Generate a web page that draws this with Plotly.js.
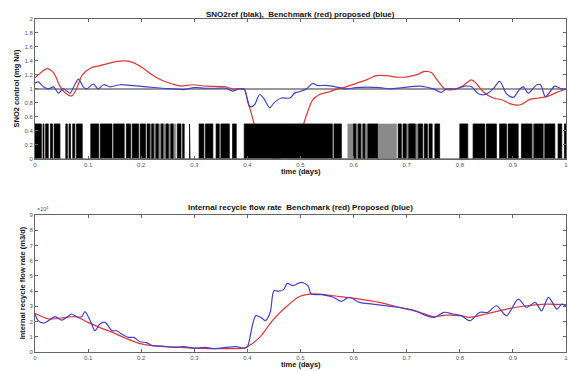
<!DOCTYPE html>
<html>
<head>
<meta charset="utf-8">
<script src="https://cdn.plot.ly/plotly-3.0.1.min.js"></script>
<style>html,body{margin:0;padding:0;background:#fff;}#chart{width:569px;height:371px;}</style>
</head>
<body>
<div id="chart"></div>
<script>
// ---- top panel: SNO2 control ----
const sno2RefX = [0, 1];
const sno2RefY = [1, 1];

const sno2RedX = [0,0.012,0.023,0.035,0.047,0.056,0.069,0.078,0.089,0.105,0.121,0.140,0.165,0.184,0.203,0.221,0.240,0.259,0.275,0.297,0.322,0.36,0.372,0.394,0.40,0.407,0.413,0.42,0.43,0.44,0.455,0.47,0.48,0.49,0.50,0.511,0.523,0.536,0.555,0.570,0.586,0.605,0.624,0.643,0.662,0.681,0.699,0.718,0.734,0.747,0.759,0.772,0.787,0.803,0.822,0.831,0.844,0.863,0.879,0.894,0.913,0.932,0.948,0.964,0.983,1.0];
const sno2RedY = [1.16,1.24,1.29,1.23,1.04,0.95,0.90,1.0,1.20,1.30,1.33,1.37,1.40,1.38,1.30,1.20,1.12,1.07,1.04,1.06,1.04,1.03,1.0,0.99,0.85,0.66,0.49,0.3,0.12,0.03,0.01,0.03,0.11,0.25,0.37,0.62,0.845,0.92,0.96,1.0,1.03,1.08,1.13,1.19,1.19,1.17,1.17,1.20,1.25,1.23,1.11,1.0,0.99,1.03,1.13,1.08,0.96,0.87,0.845,0.79,0.77,0.85,0.87,0.89,0.95,1.0];

const sno2BlueX = [0,0.006,0.016,0.025,0.035,0.044,0.053,0.060,0.066,0.075,0.082,0.091,0.097,0.110,0.119,0.129,0.142,0.160,0.180,0.21,0.24,0.26,0.28,0.30,0.32,0.34,0.36,0.372,0.384,0.394,0.404,0.413,0.423,0.432,0.442,0.45,0.464,0.48,0.489,0.498,0.511,0.523,0.532,0.548,0.566,0.586,0.605,0.649,0.668,0.693,0.725,0.75,0.765,0.775,0.793,0.809,0.822,0.835,0.848,0.863,0.875,0.888,0.901,0.913,0.92,0.929,0.945,0.952,0.961,0.970,0.979,0.992,1.0];
const sno2BlueY = [1.08,1.1,1.03,1.0,1.03,0.94,1.0,0.97,0.94,1.06,1.14,1.03,1.0,1.07,1.0,1.06,1.03,1.06,1.05,1.03,1.01,1.0,0.99,1.02,1.01,1.01,1.01,0.97,1.0,1.0,0.75,0.77,0.92,0.85,0.73,0.80,0.87,0.87,0.94,0.96,1.0,1.08,1.05,1.05,1.03,1.0,1.02,1.02,1.0,1.02,1.04,1.0,0.95,1.0,1.0,1.04,1.03,0.93,0.92,1.0,1.11,0.93,0.88,1.0,1.03,0.94,1.06,1.06,0.89,0.96,1.04,1.0,1.0];

// switching signal (0 / 0.5): on-interval starts and ends
const switchLevel = 0.5;
const onStart = [0.000,0.015,0.020,0.029,0.036,0.058,0.064,0.071,0.078,0.105,0.123,0.148,0.172,0.183,0.198,0.211,0.220,0.228,0.238,0.247,0.256,0.268,0.278,0.291,0.309,0.321,0.341,0.350,0.372,0.394,0.563,0.600,0.609,0.618,0.627,0.684,0.693,0.704,0.722,0.733,0.742,0.753,0.800,0.825,0.850,0.875,0.891,0.916,0.940,0.960,0.985,0.997];
const onEnd   = [0.012,0.017,0.025,0.033,0.047,0.061,0.067,0.075,0.089,0.120,0.145,0.168,0.180,0.195,0.208,0.216,0.223,0.232,0.241,0.251,0.260,0.275,0.281,0.292,0.318,0.335,0.347,0.366,0.379,0.560,0.577,0.604,0.613,0.621,0.645,0.690,0.699,0.716,0.730,0.739,0.748,0.762,0.815,0.847,0.869,0.888,0.910,0.935,0.957,0.979,0.992,1.000];
// regions of very dense switching (rendered grey)
const denseStart = [0.216,0.589,0.645,0.699,0.935];
const denseEnd   = [0.265,0.627,0.681,0.722,0.940];

// ---- bottom panel: internal recycle flow rate (x1e4 m3/d) ----
const qRedX = [0,0.026,0.058,0.077,0.1,0.121,0.146,0.171,0.196,0.221,0.247,0.297,0.347,0.394,0.40,0.423,0.447,0.472,0.498,0.517,0.536,0.574,0.611,0.649,0.687,0.725,0.75,0.774,0.8,0.819,0.85,0.888,0.926,0.964,1.0];
const qRedY = [2.54,2.17,2.28,2.32,1.95,1.62,1.29,0.90,0.57,0.42,0.35,0.26,0.22,0.26,0.35,0.96,2.06,2.94,3.65,3.81,3.81,3.64,3.48,3.26,2.93,2.61,2.32,2.42,2.39,2.28,2.5,2.82,3.04,3.15,3.11];

const qBlueX = [0,0.006,0.016,0.025,0.038,0.050,0.060,0.069,0.079,0.088,0.094,0.104,0.113,0.122,0.132,0.145,0.154,0.163,0.176,0.186,0.198,0.21,0.221,0.24,0.26,0.28,0.30,0.32,0.34,0.36,0.379,0.394,0.40,0.41,0.416,0.425,0.434,0.443,0.45,0.459,0.468,0.475,0.486,0.501,0.514,0.52,0.54,0.562,0.577,0.592,0.611,0.636,0.674,0.712,0.737,0.753,0.77,0.787,0.803,0.819,0.838,0.853,0.869,0.888,0.91,0.926,0.942,0.954,0.967,0.983,0.992,1.0];
const qBlueY = [2.5,2.06,1.9,2.06,2.32,2.1,2.28,2.5,2.32,2.32,2.65,2.06,1.4,1.84,1.95,1.4,1.4,1.18,0.96,0.96,0.67,0.62,0.42,0.38,0.3,0.35,0.25,0.3,0.22,0.3,0.35,0.25,0.35,1.84,2.39,2.28,2.06,2.61,4.03,4.0,4.1,4.51,4.36,4.58,4.36,3.81,3.77,3.6,3.33,3.6,3.26,3.15,2.98,2.76,2.39,2.28,2.61,2.5,2.39,2.06,2.61,2.61,3.04,2.39,3.48,2.93,3.26,2.71,3.59,2.82,3.15,3.04];

const xTickVals = [0,0.1,0.2,0.3,0.4,0.5,0.6,0.7,0.8,0.9,1];
const xTickText = ['0','0.1','0.2','0.3','0.4','0.5','0.6','0.7','0.8','0.9','1'];
const topYTickVals = [0,0.2,0.4,0.6,0.8,1,1.2,1.4,1.6,1.8,2];
const topYTickText = ['0','0.2','0.4','0.6','0.8','1','1.2','1.4','1.6','1.8','2'];
const botYTickVals = [0,1,2,3,4,5,6,7,8,9];

// build step polygons from intervals
function pulses(starts, ends, level) {
  const x = [], y = [];
  for (let i = 0; i < starts.length; i++) {
    x.push(starts[i], starts[i], ends[i], ends[i]);
    y.push(0, level, level, 0);
  }
  return {x, y};
}
const dense = pulses(denseStart, denseEnd, switchLevel);
const sw = pulses(onStart, onEnd, switchLevel);

const RED = 'rgb(228,52,52)';
const BLUE = 'rgb(64,64,210)';

const traces = [
  {x: sno2RefX, y: sno2RefY, xaxis: 'x', yaxis: 'y', mode: 'lines',
   line: {color: '#999', width: 2}},
  {x: sno2RedX, y: sno2RedY, xaxis: 'x', yaxis: 'y', mode: 'lines',
   line: {color: RED, width: 1.2, shape: 'spline', smoothing: 0.8}},
  {x: sno2BlueX, y: sno2BlueY, xaxis: 'x', yaxis: 'y', mode: 'lines',
   line: {color: BLUE, width: 1.2, shape: 'spline', smoothing: 0.8}},
  {x: dense.x, y: dense.y, xaxis: 'x', yaxis: 'y', mode: 'lines', fill: 'tozeroy',
   fillcolor: '#8a8a8a', line: {color: '#8a8a8a', width: 0.5}, hoverinfo: 'skip'},
  {x: sw.x, y: sw.y, xaxis: 'x', yaxis: 'y', mode: 'lines', fill: 'tozeroy',
   fillcolor: '#000', line: {color: '#000', width: 0.7}, hoverinfo: 'skip'},
  {x: qRedX, y: qRedY, xaxis: 'x2', yaxis: 'y2', mode: 'lines',
   line: {color: RED, width: 1.2, shape: 'spline', smoothing: 0.8}},
  {x: qBlueX, y: qBlueY, xaxis: 'x2', yaxis: 'y2', mode: 'lines',
   line: {color: BLUE, width: 1.2, shape: 'spline', smoothing: 0.8}}
];

const tickFont = {family: 'Liberation Sans, Arial, sans-serif', size: 6, color: '#555'};
const axBase = {
  showgrid: false, zeroline: false, showline: true, linecolor: '#666', linewidth: 1,
  mirror: 'ticks', ticks: 'inside', ticklen: 3, tickcolor: '#666', tickfont: tickFont,
  fixedrange: true
};

const titleFont = {family: 'Liberation Sans, Arial, sans-serif', size: 8, color: '#111'};
const labelFont = {family: 'Liberation Sans, Arial, sans-serif', size: 7.5, color: '#111'};

const layout = {
  width: 569, height: 371,
  margin: {l: 35, r: 3, t: 19, b: 19},
  paper_bgcolor: '#fff', plot_bgcolor: '#fff',
  showlegend: false,
  xaxis: Object.assign({}, axBase, {range: [0, 1], tickvals: xTickVals, ticktext: xTickText, anchor: 'y'}),
  yaxis: Object.assign({}, axBase, {range: [0, 2], tickvals: topYTickVals, ticktext: topYTickText, domain: [0.58, 1], anchor: 'x'}),
  xaxis2: Object.assign({}, axBase, {range: [0, 1], tickvals: xTickVals, ticktext: xTickText, anchor: 'y2'}),
  yaxis2: Object.assign({}, axBase, {range: [0, 9], tickvals: botYTickVals, domain: [0, 0.411], anchor: 'x2'}),
  annotations: [
    {text: '<b>SNO2ref (blak),  Benchmark (red) proposed (blue)</b>', xref: 'paper', yref: 'paper',
     x: 0.5, y: 1.015, xanchor: 'center', yanchor: 'middle', showarrow: false, font: titleFont},
    {text: '<b>Internal recycle flow rate  Benchmark (red) Proposed (blue)</b>', xref: 'paper', yref: 'paper',
     x: 0.5, y: 0.434, xanchor: 'center', yanchor: 'middle', showarrow: false, font: titleFont},
    {text: '<b>time (days)</b>', xref: 'paper', yref: 'paper', x: 0.5, y: 0.542,
     xanchor: 'center', yanchor: 'middle', showarrow: false, font: labelFont},
    {text: '<b>time (days)</b>', xref: 'paper', yref: 'paper', x: 0.5, y: -0.039,
     xanchor: 'center', yanchor: 'middle', showarrow: false, font: labelFont},
    {text: '<b>SNO2 control (mg N/l)</b>', xref: 'paper', yref: 'paper', x: -0.034, y: 0.791,
     xanchor: 'center', yanchor: 'middle', textangle: -90, showarrow: false, font: labelFont},
    {text: '<b>Internal recycle flow rate (m3/d)</b>', xref: 'paper', yref: 'paper', x: -0.024, y: 0.207,
     xanchor: 'center', yanchor: 'middle', textangle: -90, showarrow: false, font: labelFont},
    {text: '×10<sup>4</sup>', xref: 'paper', yref: 'paper', x: 0.0, y: 0.428,
     xanchor: 'left', yanchor: 'middle', showarrow: false,
     font: {family: 'Liberation Sans, Arial, sans-serif', size: 5.5, color: '#555'}}
  ]
};

Plotly.newPlot('chart', traces, layout, {staticPlot: true, displayModeBar: false});
</script>
</body>
</html>
